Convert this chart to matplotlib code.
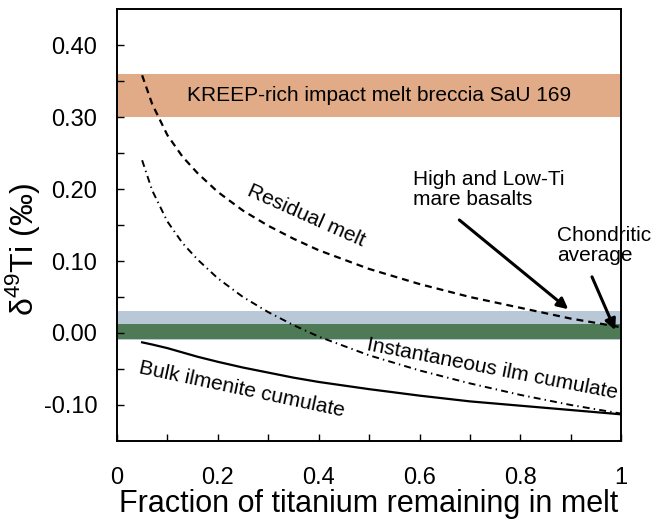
import matplotlib
matplotlib.use("Agg")
import matplotlib.pyplot as plt

# values
frac = [0.05, 0.07, 0.10, 0.13, 0.16, 0.20, 0.25, 0.30, 0.35, 0.40,
        0.50, 0.60, 0.70, 0.80, 0.90, 1.00]
residual_melt = [0.358, 0.318, 0.275, 0.245, 0.222, 0.196, 0.170, 0.149, 0.131, 0.115,
                 0.089, 0.068, 0.050, 0.035, 0.020, 0.008]
inst_ilm = [0.240, 0.198, 0.155, 0.125, 0.102, 0.076, 0.050, 0.029, 0.011, -0.005,
            -0.031, -0.052, -0.070, -0.086, -0.100, -0.112]
bulk_ilm = [-0.013, -0.016, -0.021, -0.027, -0.033, -0.040, -0.048, -0.055, -0.062, -0.068,
            -0.078, -0.087, -0.095, -0.101, -0.107, -0.113]

kreep_band = (0.30, 0.36)
mare_band = (-0.010, 0.030)
chondrite_band = (-0.008, 0.013)

xticks = [0, 0.2, 0.4, 0.6, 0.8, 1]
yticks = [-0.10, 0.00, 0.10, 0.20, 0.30, 0.40]

plt.rcParams['font.family'] = ['Liberation Sans', 'DejaVu Sans']
plt.rcParams['mathtext.fontset'] = 'custom'
plt.rcParams['mathtext.rm'] = 'Liberation Sans'
plt.rcParams['lines.scale_dashes'] = False

fig = plt.figure(figsize=(6.68, 5.21), dpi=100)
ax = fig.add_axes([0.175, 0.1536, 0.755, 0.829])

ax.axhspan(*kreep_band, color='#E2AB87', lw=0, zorder=1)
ax.axhspan(*mare_band, color='#B9C8D6', lw=0, zorder=1)
ax.axhspan(*chondrite_band, color='#4E7A55', lw=0, zorder=1)

ax.plot(frac, residual_melt, color='black', lw=1.6, dashes=(5, 3.6), zorder=3)
ax.plot(frac, inst_ilm, color='black', lw=1.4, dashes=(5, 3, 1, 3), zorder=3)
ax.plot(frac, bulk_ilm, color='black', lw=1.6, zorder=3)

ax.text(0.52, 0.33, 'KREEP-rich impact melt breccia SaU 169', fontsize=15,
        ha='center', va='center', zorder=4)
ax.text(0.375, 0.163, 'Residual melt', fontsize=15, rotation=-24,
        ha='center', va='center', rotation_mode='anchor')
ax.text(0.745, -0.050, 'Instantaneous ilm cumulate', fontsize=15, rotation=-11,
        ha='center', va='center', rotation_mode='anchor')
ax.text(0.248, -0.079, 'Bulk ilmenite cumulate', fontsize=15, rotation=-12,
        ha='center', va='center', rotation_mode='anchor')

arrow = dict(arrowstyle='-|>', color='black', lw=2.2, mutation_scale=16,
             shrinkA=0, shrinkB=0)
ax.text(0.587, 0.226, 'High and Low-Ti\nmare basalts', fontsize=15,
        ha='left', va='top', linespacing=1.05)
ax.annotate('', xy=(0.895, 0.033), xytext=(0.679, 0.157), arrowprops=arrow, zorder=5)
ax.text(0.873, 0.148, 'Chondritic\naverage', fontsize=15, ha='left', va='top',
        linespacing=1.05, clip_on=False)
ax.annotate('', xy=(0.988, 0.004), xytext=(0.942, 0.078), arrowprops=arrow, zorder=5)

ax.set_xlim(0, 1)
ax.set_ylim(-0.15, 0.45)
ax.set_xticks(xticks)
ax.set_xticklabels(['%g' % v for v in xticks])
ax.set_xticks([i / 10 for i in range(1, 10)], minor=True)
ax.set_yticks(yticks)
ax.set_yticklabels(['%.2f' % v for v in yticks])
ax.set_yticks([-0.05, 0.05, 0.15, 0.25, 0.35], minor=True)

ax.tick_params(axis='x', which='both', direction='in', length=5, width=1,
               labelsize=17, pad=18.5)
ax.tick_params(axis='y', which='both', direction='in', length=5, width=1,
               labelsize=17, pad=14)
for sp in ax.spines.values():
    sp.set_linewidth(1.4)

ax.set_xlabel('Fraction of titanium remaining in melt', fontsize=22, labelpad=0)
ax.set_ylabel('δ$^{49}$Ti (‰)', fontsize=23)
ax.yaxis.set_label_coords(-0.149, 0.444)

fig.savefig('out.png', dpi=100)
